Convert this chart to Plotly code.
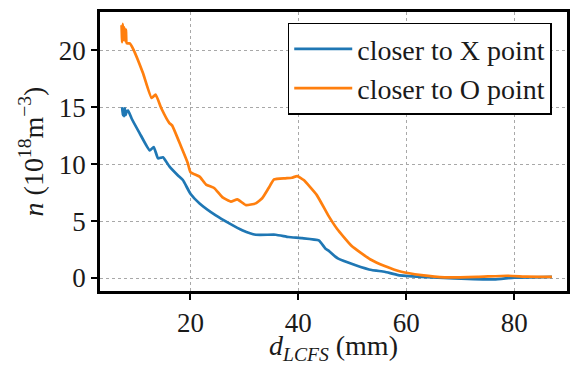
import plotly.graph_objects as go

# closer to X point (blue)
x_x = [7.35, 7.45, 7.55, 7.7, 7.85, 8.0, 8.15, 8.45, 9.1, 10.6, 12.45, 13.2, 14.0, 14.9, 16.1, 17.7,
       18.6, 20.0, 21.7, 24.7, 27.2, 29.6, 32.1, 35.8, 38.2, 40.7, 43.8, 45.0, 45.6, 46.8, 47.4,
       50.5, 53.6, 56.0, 58.5, 62.8, 68.9, 76.3, 80.0, 87.0]
y_x = [15.0, 14.3, 14.8, 14.2, 14.9, 14.3, 14.6, 14.7, 14.0, 12.7, 11.2, 11.5, 10.5, 10.6, 9.8, 9.0,
       8.6, 7.4, 6.55, 5.5, 4.8, 4.2, 3.8, 3.8, 3.6, 3.5, 3.3, 2.6, 2.4, 1.9, 1.7,
       1.15, 0.7, 0.55, 0.26, 0.1, -0.03, -0.12, 0.03, 0.1]

# closer to O point (orange)
x_o = [7.24, 7.35, 7.45, 7.6, 7.75, 7.9, 8.05, 8.2, 8.77, 9.4, 11.2, 12.8, 13.55, 14.6, 16.1, 16.6,
       18.3, 19.5, 20.0, 21.7, 22.9, 24.4, 25.9, 27.5, 28.7, 30.3, 32.1, 33.3, 34.5, 35.5, 37.6,
       38.8, 39.8, 41.0, 43.4, 45.6, 47.2, 49.9, 53.3, 56.0, 59.1, 62.8, 67.1, 73.2, 78.7, 82.4, 87.0]
y_o = [22.2, 20.7, 22.3, 20.9, 22.0, 20.8, 21.8, 20.6, 20.6, 20.1, 18.0, 15.8, 16.1, 14.9, 13.6, 13.4,
       11.5, 10.1, 9.3, 8.9, 8.2, 7.9, 7.1, 6.7, 6.9, 6.4, 6.55, 7.0, 7.9, 8.65, 8.75,
       8.8, 8.95, 8.6, 7.3, 5.45, 4.3, 2.8, 1.65, 1.05, 0.55, 0.26, 0.06, 0.1, 0.2, 0.12, 0.1]

x_ticks = [20, 40, 60, 80]
y_ticks = [0, 5, 10, 15, 20]

FONT = "Liberation Serif"
TXT = "#1a1a1a"

fig = go.Figure()
fig.add_trace(go.Scatter(x=x_x, y=y_x, mode="lines", name="closer to X point",
                         line=dict(color="#1f77b4", width=2.7, shape="spline", smoothing=0.4)))
fig.add_trace(go.Scatter(x=x_o, y=y_o, mode="lines", name="closer to O point",
                         line=dict(color="#ff7f0e", width=2.7, shape="spline", smoothing=0.4)))

axis_common = dict(
    showline=True, mirror=True, linecolor="black", linewidth=2.5,
    showgrid=True, gridcolor="#a8a8a8", griddash="dot", gridwidth=1.2,
    zeroline=False, ticks="outside", ticklen=6, tickwidth=1.5, tickcolor="black",
    tickfont=dict(family=FONT, size=27, color=TXT),
)

fig.update_xaxes(range=[3.24, 89.8], tickvals=x_ticks,
                 title=dict(text="<i>d</i><sub><i>LCFS</i></sub> (mm)",
                            font=dict(family=FONT, size=28, color=TXT), standoff=3),
                 **axis_common)
fig.update_yaxes(range=[-1.14, 23.35], tickvals=y_ticks,
                 title=dict(text="<i>n</i> (10<sup>18</sup>m<sup>−3</sup>)",
                            font=dict(family=FONT, size=28, color=TXT), standoff=8),
                 **axis_common)

fig.update_layout(
    width=571, height=365,
    margin=dict(l=100, r=1, t=12, b=74),
    paper_bgcolor="white", plot_bgcolor="white",
    legend=dict(x=0.402, y=0.962, xanchor="left", yanchor="top",
                bgcolor="white", bordercolor="black", borderwidth=1.5,
                font=dict(family=FONT, size=28, color=TXT),
                itemwidth=58, tracegroupgap=0),
    showlegend=True,
)

fig.write_html("out.html")
